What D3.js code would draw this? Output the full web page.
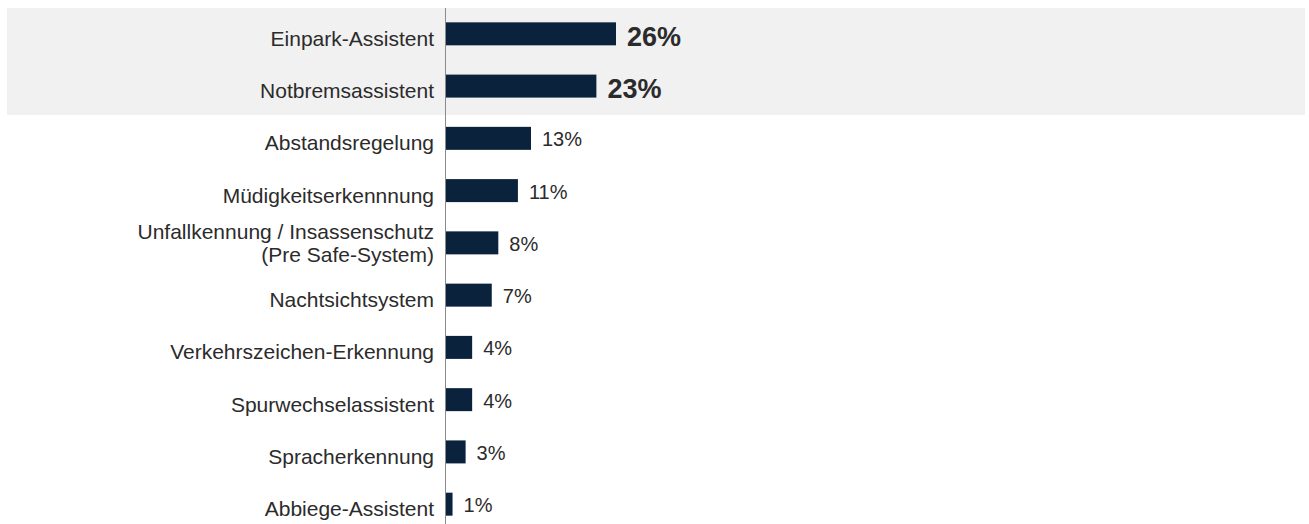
<!DOCTYPE html>
<html>
<head>
<meta charset="utf-8">
<script src="https://cdn.jsdelivr.net/npm/d3@7"></script>
<style>
  html, body { margin: 0; padding: 0; background: #fff; }
  svg { display: block; font-family: "Liberation Sans", Arial, sans-serif; }
</style>
</head>
<body>
<svg id="chart" width="1309" height="524"></svg>
<script>
// Assistenzsysteme: share of mentions
const categories = [
  "Einpark-Assistent",
  "Notbremsassistent",
  "Abstandsregelung",
  "Müdigkeitserkennnung",
  "Unfallkennung / Insassenschutz\n(Pre Safe-System)",
  "Nachtsichtsystem",
  "Verkehrszeichen-Erkennung",
  "Spurwechselassistent",
  "Spracherkennung",
  "Abbiege-Assistent"
];
const values = [26, 23, 13, 11, 8, 7, 4, 4, 3, 1];
const highlighted = ["Einpark-Assistent", "Notbremsassistent"];

const svg = d3.select("#chart");
const axisX = 445;

const x = d3.scaleLinear().domain([0, 26]).range([axisX + 1, axisX + 171]);
const y = d3.scaleBand()
  .domain(categories)
  .range([7.7, 530.3])
  .paddingInner(0.56)
  .paddingOuter(0.28);

// shaded band behind the highlighted rows
svg.append("rect")
  .attr("x", 7).attr("y", 8)
  .attr("width", 1298).attr("height", 107)
  .attr("fill", "#f1f1f1");

// bars
svg.selectAll("rect.bar")
  .data(categories)
  .join("rect")
  .attr("class", "bar")
  .attr("x", x(0))
  .attr("y", d => y(d))
  .attr("width", (d, i) => x(values[i]) - x(0))
  .attr("height", y.bandwidth())
  .attr("fill", "#0b223d");

// category axis line
svg.append("line")
  .attr("x1", axisX + 0.5).attr("x2", axisX + 0.5)
  .attr("y1", 8).attr("y2", 524)
  .attr("stroke", "#8a8a8a")
  .attr("stroke-width", 1);

// category labels
const labels = svg.selectAll("text.cat")
  .data(categories)
  .join("text")
  .attr("class", "cat")
  .attr("text-anchor", "end")
  .attr("fill", "#2b2b2b")
  .attr("font-size", 21);

labels.each(function (d) {
  const lines = d.split("\n");
  const cy = y(d) + y.bandwidth() / 2;
  const lh = 23.5;
  const t = d3.select(this);
  lines.forEach((ln, k) => {
    t.append("tspan")
      .attr("x", 434)
      .attr("y", cy + 12 + (k - (lines.length - 1) / 2) * lh - (lines.length > 1 ? 4.5 : 0))
      .text(ln);
  });
});

// value labels
svg.selectAll("text.val")
  .data(categories)
  .join("text")
  .attr("class", "val")
  .attr("x", (d, i) => x(values[i]) + 11)
  .attr("y", d => y(d) + y.bandwidth() / 2 + (highlighted.includes(d) ? 12 : 8))
  .attr("fill", "#2b2b2b")
  .attr("font-size", d => highlighted.includes(d) ? 27 : 20)
  .attr("font-weight", d => highlighted.includes(d) ? "bold" : "normal")
  .text((d, i) => values[i] + "%");
</script>
</body>
</html>
